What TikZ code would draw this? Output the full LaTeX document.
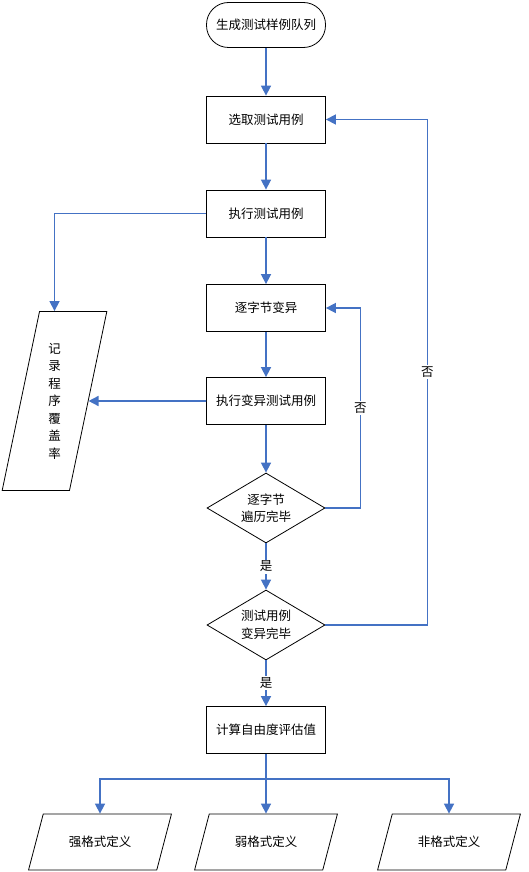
\documentclass[tikz,border=0pt]{standalone}
\usepackage{fontspec}
\setmainfont{Noto Sans CJK SC}
\usetikzlibrary{arrows.meta,positioning,shapes.geometric}
\definecolor{flowblue}{HTML}{4472C4}
\tikzset{
  flow/.style={flowblue, -{Triangle[length=10pt,width=10pt]}, line width=1.6pt},
  flowline/.style={flowblue, line width=1.6pt},
  procnode/.style={draw=black, line width=0.8pt, minimum width=119pt, minimum height=47pt, inner sep=2pt, align=center},
  termnode/.style={procnode, rounded corners=22pt, minimum height=45pt},
  decnode/.style={diamond, draw=black, line width=0.8pt, shape aspect=1.7, inner sep=0pt, minimum width=118pt, minimum height=70pt, align=center},
  ionode/.style={trapezium, trapezium left angle=64, trapezium right angle=116, trapezium stretches=true, draw=black, line width=0.8pt, minimum width=144pt, minimum height=56pt, align=center},
  branchlabel/.style={fill=white, text=black, inner sep=1.5pt}
}

\begin{document}
\begin{tikzpicture}[x=1pt,y=-1pt,font=\fontsize{12.5}{17.5}\selectfont]
  \useasboundingbox (0,0) rectangle (529,872);
  \node[termnode] (start) at (266,25) {生成测试样例队列};
  \node[procnode] (pick) at (266,119.5) {选取测试用例};
  \node[procnode] (run) at (266,213.5) {执行测试用例};
  \node[procnode] (mut) at (266,308) {逐字节变异};
  \node[procnode] (runmut) at (266,401) {执行变异测试用例};
  \node[decnode] (bytedone) at (266,508) {逐字节\\遍历完毕};
  \node[decnode] (casedone) at (266,625) {测试用例\\变异完毕};
  \node[procnode] (calc) at (266,730) {计算自由度评估值};
  \node[ionode, trapezium left angle=79, trapezium right angle=101, minimum width=105pt, minimum height=179pt] (cover) at (54.5,401) {记\\录\\程\\序\\覆\\盖\\率};
  \node[ionode] (strong) at (100,842) {强格式定义};
  \node[ionode] (weak) at (266,842) {弱格式定义};
  \node[ionode] (nonfmt) at (449,842) {非格式定义};
  \coordinate (split) at (266,779);
  \draw[flow] (start) -- (pick);
  \draw[flow] (pick) -- (run);
  \draw[flow] (run) -- (mut);
  \draw[flow] (mut) -- (runmut);
  \draw[flow] (runmut) -- (bytedone);
  \draw[flow] (bytedone) -- node[branchlabel] {是} (casedone);
  \draw[flow] (casedone) -- node[branchlabel] {是} (calc);
  \draw[flow] (run.west) -| (cover.north);
  \draw[flow] (runmut.west) -- (cover.east);
  \draw[flow] (bytedone.east) -- ++(35,0) |- node[pos=0.25, branchlabel] {否} (mut.east);
  \draw[flow] (casedone.east) -- ++(102,0) |- node[pos=0.25, branchlabel] {否} (pick.east);
  \draw[flowline] (calc.south) -- (split);
  \draw[flow] (split) -| (strong.north);
  \draw[flow] (split) -- (weak.north);
  \draw[flow] (split) -| (nonfmt.north);
\end{tikzpicture}
\end{document}
